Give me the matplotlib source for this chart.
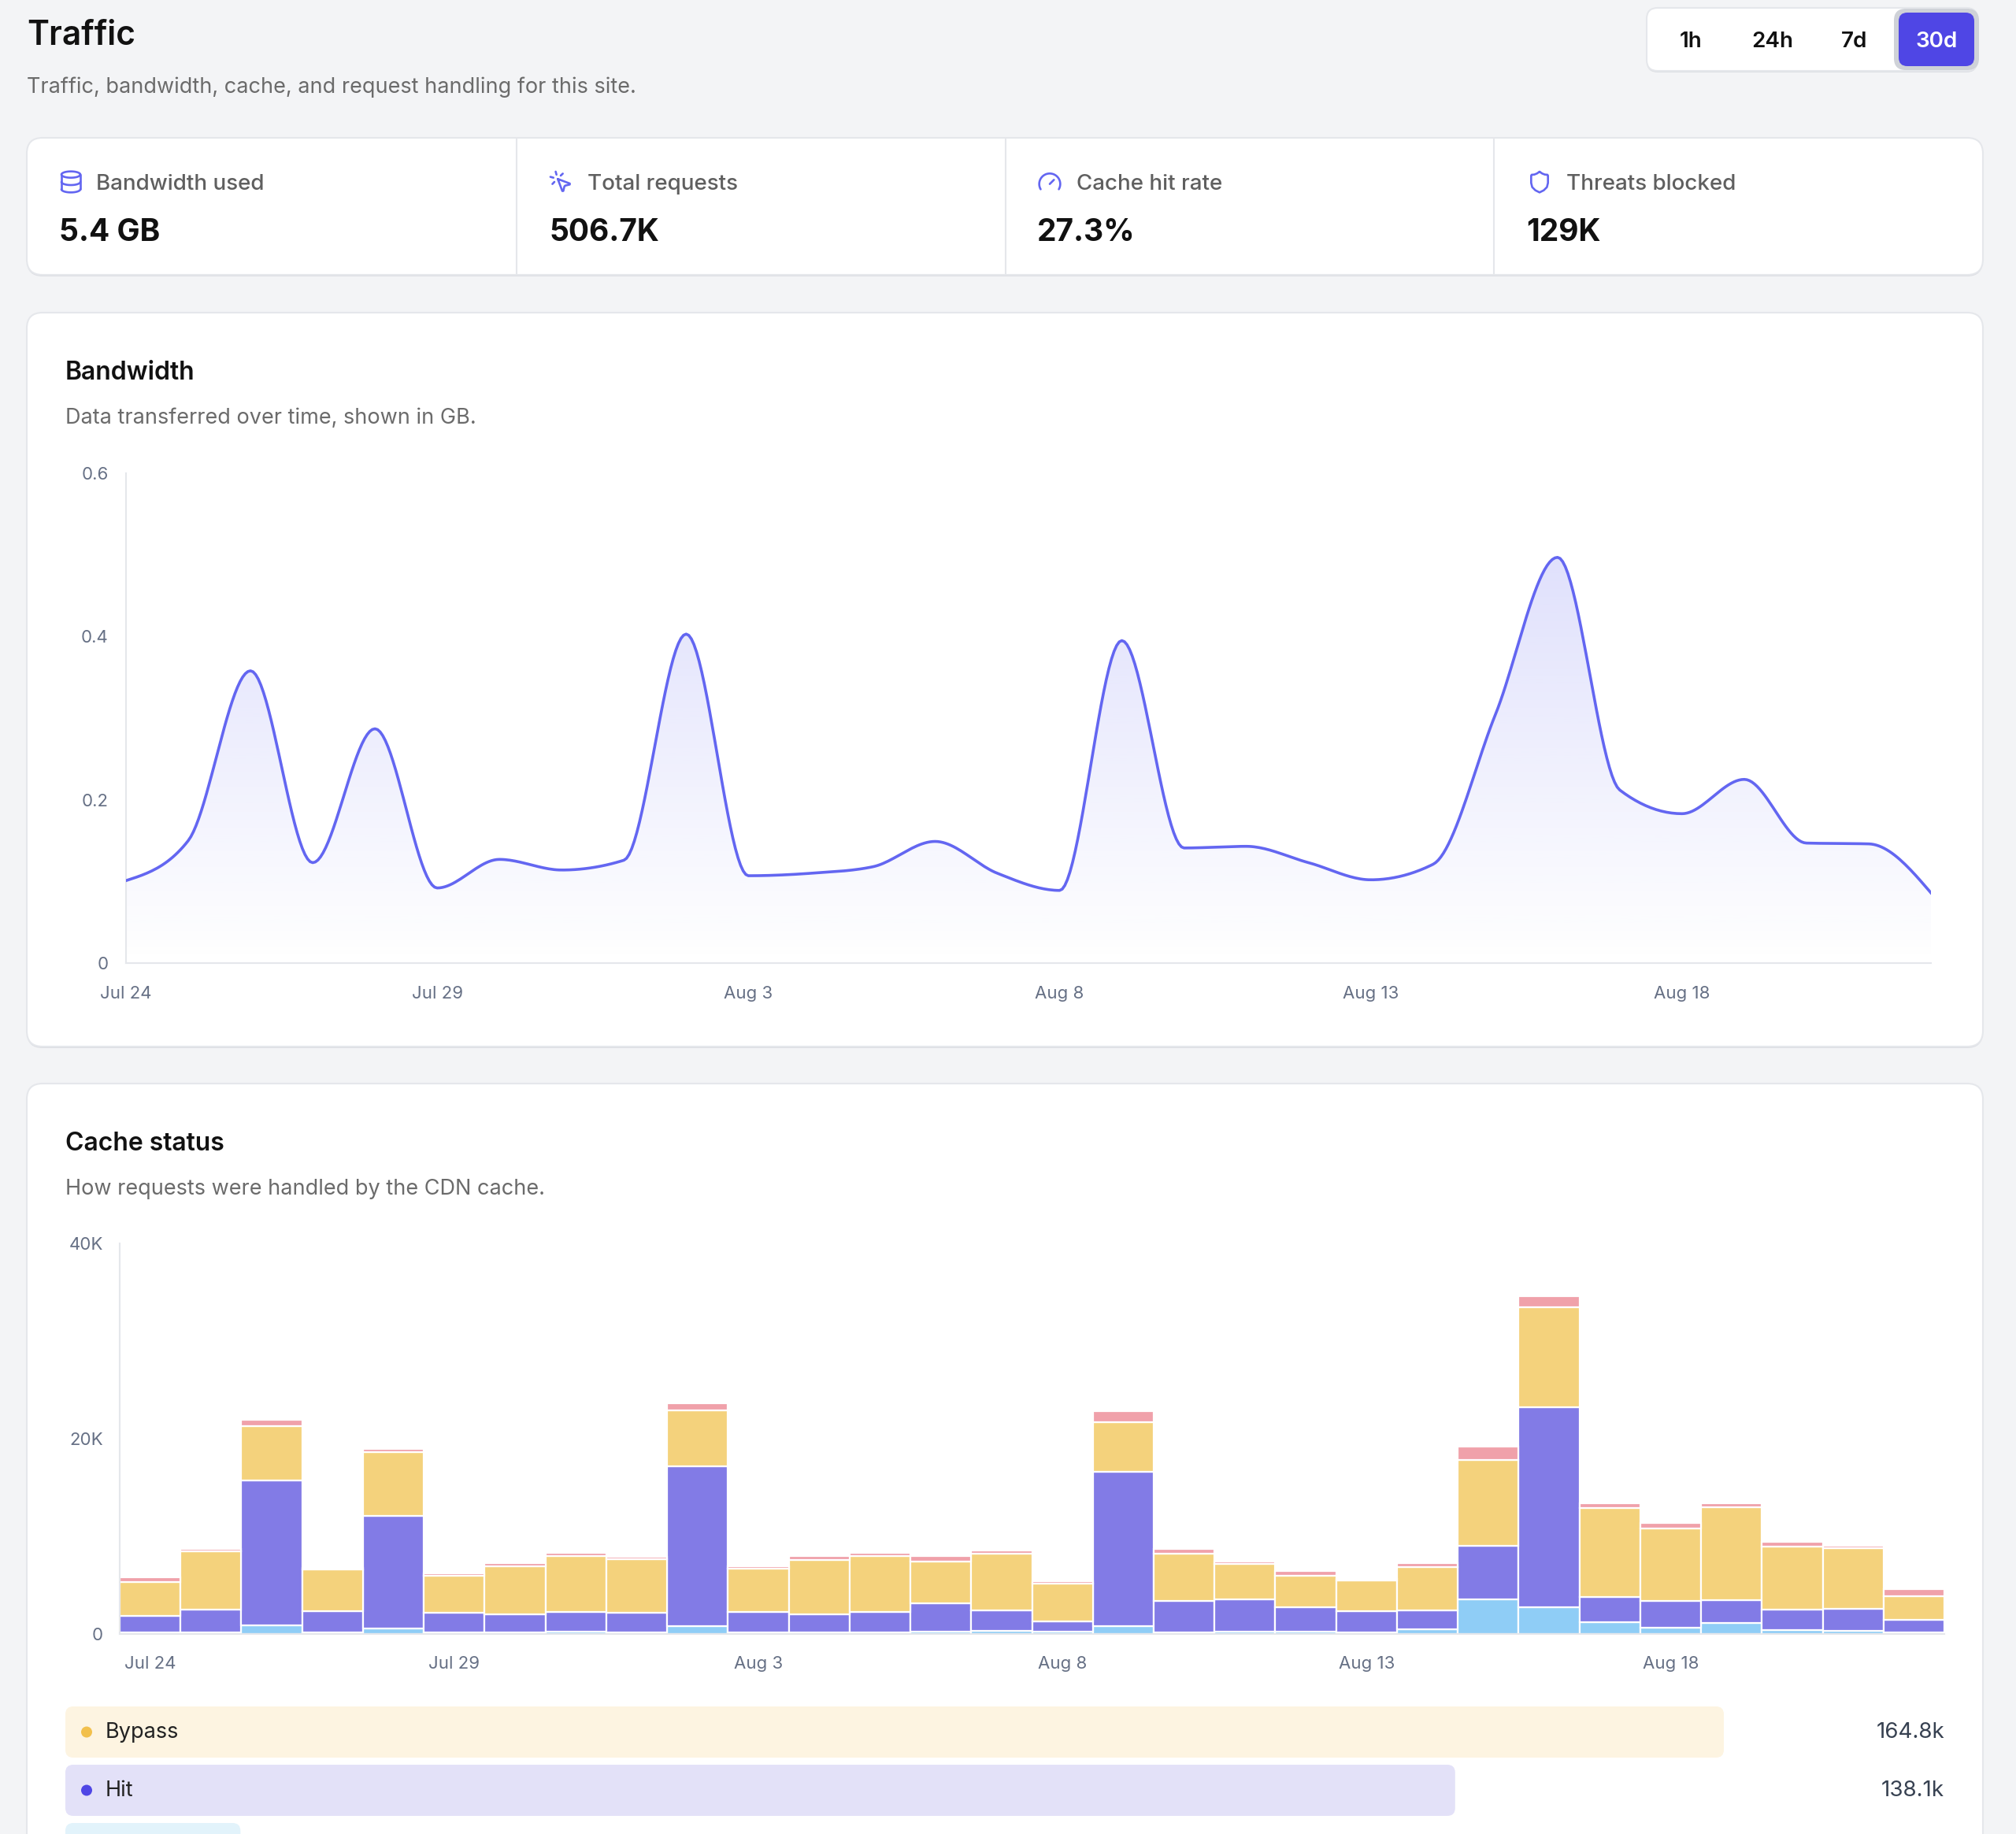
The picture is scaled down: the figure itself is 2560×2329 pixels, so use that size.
import numpy as np
import matplotlib
matplotlib.use("Agg")
import matplotlib.pyplot as plt
from matplotlib.patches import FancyBboxPatch, Circle
from matplotlib.colors import to_rgb

plt.rcParams["font.family"] = ["Inter", "DejaVu Sans"]

W, H = 2560, 2329

# ---- data -----------------------------------------------------------------
tick_idx = [0, 5, 10, 15, 20, 25]
tick_labels = ["Jul 24", "Jul 29", "Aug 3", "Aug 8", "Aug 13", "Aug 18"]

bandwidth_gb = [0.101, 0.150, 0.358, 0.123, 0.287, 0.092, 0.127, 0.114, 0.126, 0.403,
                0.107, 0.110, 0.118, 0.149, 0.110, 0.089, 0.395, 0.141, 0.143, 0.123,
                0.102, 0.121, 0.304, 0.497, 0.212, 0.183, 0.225, 0.147, 0.146, 0.086]

# cache status per day, thousands of requests
miss_k = [0.20, 0.20, 0.87, 0.20, 0.58, 0.20, 0.20, 0.25, 0.20, 0.78,
          0.20, 0.20, 0.20, 0.25, 0.30, 0.25, 0.78, 0.20, 0.25, 0.25,
          0.20, 0.50, 3.54, 2.75, 1.25, 0.64, 1.10, 0.43, 0.30, 0.20]
hit_k = [1.68, 2.26, 14.83, 2.12, 11.52, 1.94, 1.83, 2.04, 1.94, 16.42,
         2.03, 1.83, 2.09, 2.88, 2.13, 1.08, 15.82, 3.16, 3.29, 2.47,
         2.12, 1.93, 5.53, 20.45, 2.52, 2.75, 2.38, 2.03, 2.30, 1.25]
bypass_k = [3.42, 6.00, 5.60, 4.26, 6.50, 3.83, 4.93, 5.71, 5.54, 5.70,
            4.49, 5.57, 5.71, 4.29, 5.80, 3.83, 5.10, 4.90, 3.65, 3.22,
            3.13, 4.44, 8.73, 10.30, 9.13, 7.41, 9.52, 6.53, 6.21, 2.41]
expired_k = [0.50, 0.25, 0.65, 0.20, 0.35, 0.20, 0.30, 0.30, 0.25, 0.70,
             0.20, 0.40, 0.30, 0.55, 0.30, 0.25, 1.10, 0.45, 0.25, 0.55,
             0.20, 0.40, 1.40, 1.10, 0.45, 0.55, 0.40, 0.45, 0.25, 0.70]

legend_names = ["Bypass", "Hit", "Miss"]
legend_totals_k = [164.8, 138.1, 17.4]

kpi_labels = ["Bandwidth used", "Total requests", "Cache hit rate", "Threats blocked"]
kpi_values = ["5.4 GB", "506.7K", "27.3%", "129K"]
ranges = ["1h", "24h", "7d", "30d"]

# ---- colours --------------------------------------------------------------
BG = "#f3f4f6"
BORDER = "#e5e7eb"
INDIGO = "#6366f1"
TICK = "#667085"
SUB = "#6b6b6b"
C_MISS, C_HIT, C_BYPASS, C_EXP = "#8fcdf6", "#827be6", "#f4d27c", "#f0a1aa"

fig = plt.figure(figsize=(W / 100, H / 100), dpi=100, facecolor=BG)
bg = fig.add_axes([0, 0, 1, 1])
bg.set_xlim(0, W)
bg.set_ylim(H, 0)
bg.axis("off")
bg.set_zorder(0)


def card(x0, y0, x1, y1, r=20, fc="white", ec=BORDER, lw=1.5):
    # faint drop shadow then the card itself
    bg.add_patch(FancyBboxPatch((x0, y0 + 2), x1 - x0, y1 - y0,
                                boxstyle=f"round,pad=0,rounding_size={r}",
                                fc="#dcdee3", ec="none"))
    bg.add_patch(FancyBboxPatch((x0, y0), x1 - x0, y1 - y0,
                                boxstyle=f"round,pad=0,rounding_size={r}",
                                fc=fc, ec=ec, lw=lw))


def px_axes(x0, y0, x1, y1):
    ax = fig.add_axes([x0 / W, 1 - y1 / H, (x1 - x0) / W, (y1 - y0) / H])
    ax.set_facecolor("none")
    return ax


def stroke(pts, x0, y0, s, closed=False):
    p = np.array(pts, dtype=float)
    if closed:
        p = np.vstack([p, p[:1]])
    bg.plot(x0 + p[:, 0] * s, y0 + p[:, 1] * s, color=INDIGO, lw=1.9,
            solid_capstyle="round", solid_joinstyle="round")


def ell(cx, cy, rx, ry, t0, t1):
    t = np.linspace(np.radians(t0), np.radians(t1), 60)
    return np.c_[cx + rx * np.cos(t), cy + ry * np.sin(t)]


def icon(kind, cx, cy, size=32):
    s = size / 24
    x0, y0 = cx - 12 * s, cy - 12 * s
    if kind == "db":
        stroke(ell(12, 5, 9, 3, 0, 360), x0, y0, s)
        stroke([(3, 5), (3, 19)], x0, y0, s)
        stroke([(21, 5), (21, 19)], x0, y0, s)
        stroke(ell(12, 19, 9, 3, 0, 180), x0, y0, s)
        stroke(ell(12, 12, 9, 3, 0, 180), x0, y0, s)
    elif kind == "click":
        for seg in [[(14, 4.1), (12, 6)], [(5.1, 8), (2.2, 7.2)],
                    [(6, 12), (4.1, 14)], [(7.2, 2.2), (8, 5.1)]]:
            stroke(seg, x0, y0, s)
        stroke([(9.2, 9.2), (20.69, 13.54), (20.62, 14.49), (16.27, 15.53),
                (15.53, 16.27), (14.49, 20.62), (13.54, 20.69)], x0, y0, s, closed=True)
    elif kind == "gauge":
        stroke(ell(12, 14, 10, 10, 150, 390), x0, y0, s)
        stroke([(12, 14), (16, 10)], x0, y0, s)
    elif kind == "shield":
        stroke([(12, 2.3), (14.5, 4.0), (17, 5), (19.5, 5.2), (20, 6), (20, 13),
                (19, 17), (16, 20), (12, 22), (8, 20), (5, 17), (4, 13), (4, 6),
                (4.5, 5.2), (7, 5), (9.5, 4.0)], x0, y0, s, closed=True)


# ---- header ---------------------------------------------------------------
bg.text(34, 57, "Traffic", fontsize=30.5, fontweight="semibold", color="#111111", va="baseline")
bg.text(34, 118, "Traffic, bandwidth, cache, and request handling for this site.",
        fontsize=19.5, color=SUB, va="baseline")

card(2091, 10, 2511, 90, r=14)
bg.add_patch(FancyBboxPatch((2405, 11), 108, 78, boxstyle="round,pad=0,rounding_size=15",
                            fc="#cfd2d8", ec="none"))
bg.add_patch(FancyBboxPatch((2411, 16), 96, 68, boxstyle="round,pad=0,rounding_size=11",
                            fc="#4f46e5", ec="none"))
for lab, cx in zip(ranges, [2147, 2251, 2355, 2459]):
    bg.text(cx, 60, lab, fontsize=20, fontweight="semibold", ha="center", va="baseline",
            color="white" if lab == "30d" else "#111111")

# ---- KPI strip ------------------------------------------------------------
card(34, 175, 2518, 349)
for xd in [656, 1277, 1897]:
    bg.plot([xd, xd], [176, 348], color=BORDER, lw=1.5)
for kind, lab, val, ix, lx, vx in zip(["db", "click", "gauge", "shield"], kpi_labels, kpi_values,
                                      [90, 712, 1333, 1955], [122, 746, 1367, 1989],
                                      [75, 697, 1317, 1938]):
    icon(kind, ix, 231)
    bg.text(lx, 241, lab, fontsize=20, fontweight="medium", color="#5f5f5f", va="baseline")
    bg.text(vx, 306, val, fontsize=28, fontweight="bold", color="#111111", va="baseline")

# ---- bandwidth card -------------------------------------------------------
card(34, 397, 2518, 1329)
bg.text(83, 482, "Bandwidth", fontsize=23, fontweight="semibold", color="#111111", va="baseline")
bg.text(83, 538, "Data transferred over time, shown in GB.", fontsize=19.5, color=SUB,
        va="baseline")


def monotone(y, n=24):
    # monotone cubic (Fritsch-Carlson) like d3.curveMonotoneX
    y = np.asarray(y, float)
    d = np.diff(y)
    m = np.zeros_like(y)
    for i in range(1, len(y) - 1):
        s0, s1 = d[i - 1], d[i]
        p = (s0 + s1) / 2
        m[i] = (np.sign(s0) + np.sign(s1)) * min(abs(s0), abs(s1), 0.5 * abs(p))
    m[0] = (3 * d[0] - m[1]) / 2
    m[-1] = (3 * d[-1] - m[-2]) / 2
    xs, ys = [], []
    for i in range(len(y) - 1):
        t = np.linspace(0, 1, n, endpoint=False)
        h00 = 2 * t**3 - 3 * t**2 + 1
        h10 = t**3 - 2 * t**2 + t
        h01 = -2 * t**3 + 3 * t**2
        h11 = t**3 - t**2
        xs.append(i + t)
        ys.append(h00 * y[i] + h10 * m[i] + h01 * y[i + 1] + h11 * m[i + 1])
    xs.append([len(y) - 1])
    ys.append([y[-1]])
    return np.concatenate(xs), np.concatenate(ys)


ax1 = px_axes(160, 601, 2452, 1223)
xs, ys = monotone(bandwidth_gb)
top = max(bandwidth_gb)
grad = np.zeros((256, 1, 4))
grad[..., :3] = to_rgb(INDIGO)
grad[:, 0, 3] = np.linspace(0.0, 0.2, 256)
poly = ax1.fill_between(xs, ys, 0, facecolor="none", edgecolor="none")
im = ax1.imshow(grad, extent=[0, len(bandwidth_gb) - 1, 0, top], origin="lower",
                aspect="auto", zorder=1)
im.set_clip_path(poly.get_paths()[0], transform=ax1.transData)
ax1.plot(xs, ys, color=INDIGO, lw=2.6, zorder=3, solid_joinstyle="round")
ax1.set_xlim(0, len(bandwidth_gb) - 1)
ax1.set_ylim(0, 0.6)
ax1.set_yticks([0, 0.2, 0.4, 0.6])
ax1.set_yticklabels(["0", "0.2", "0.4", "0.6"])
ax1.set_xticks(tick_idx)
ax1.set_xticklabels(tick_labels)

# ---- cache card -----------------------------------------------------------
card(34, 1376, 2518, H + 60)
bg.text(83, 1461, "Cache status", fontsize=23, fontweight="semibold", color="#111111",
        va="baseline")
bg.text(83, 1517, "How requests were handled by the CDN cache.", fontsize=19.5, color=SUB,
        va="baseline")

ax2 = px_axes(152, 1579, 2469, 2075)
days = np.arange(len(hit_k))
bottom = np.zeros(len(days))
for vals, col in [(miss_k, C_MISS), (hit_k, C_HIT), (bypass_k, C_BYPASS), (expired_k, C_EXP)]:
    v = np.asarray(vals) * 1000
    ax2.bar(days, v, bottom=bottom, width=1.0, color=col, edgecolor="white", linewidth=1.6,
            zorder=2)
    bottom += v
ax2.set_xlim(-0.5, len(days) - 0.5)
ax2.set_ylim(0, 40000)
ax2.set_yticks([0, 20000, 40000])
ax2.set_yticklabels(["0", "20K", "40K"])
ax2.set_xticks(tick_idx)
ax2.set_xticklabels(tick_labels)

for ax, ypad in [(ax1, 16), (ax2, 15)]:
    for side in ["top", "right"]:
        ax.spines[side].set_visible(False)
    for side in ["left", "bottom"]:
        ax.spines[side].set_color(BORDER)
        ax.spines[side].set_linewidth(1.5)
    ax.tick_params(axis="both", length=0, labelsize=16, labelcolor=TICK)
    ax.tick_params(axis="y", pad=ypad)
ax1.tick_params(axis="x", pad=21)
ax2.tick_params(axis="x", pad=20)

# legend rows, widths scaled to the largest total
row_bg = ["#fdf4e1", "#e3e1f8", "#e2f3fb"]
dots = ["#f2c04c", "#4f46e5", "#38bdf8"]
full = 2189 - 83
for i, (name, tot) in enumerate(zip(legend_names, legend_totals_k)):
    y0 = 2167 + 74 * i
    wbar = full * tot / max(legend_totals_k)
    bg.add_patch(FancyBboxPatch((83, y0), wbar, 65, boxstyle="round,pad=0,rounding_size=10",
                                fc=row_bg[i], ec="none"))
    if y0 + 50 > H:
        continue  # this row's text falls below the visible area
    bg.add_patch(Circle((110, y0 + 32.5), 7, fc=dots[i], ec="none"))
    bg.text(134, y0 + 33, name, fontsize=19.5, color="#222222", va="center")
    bg.text(2469, y0 + 33, f"{tot:.1f}k", fontsize=20, color="#374151", va="center",
            ha="right")

fig.savefig("out.png", dpi=100, facecolor=BG)
